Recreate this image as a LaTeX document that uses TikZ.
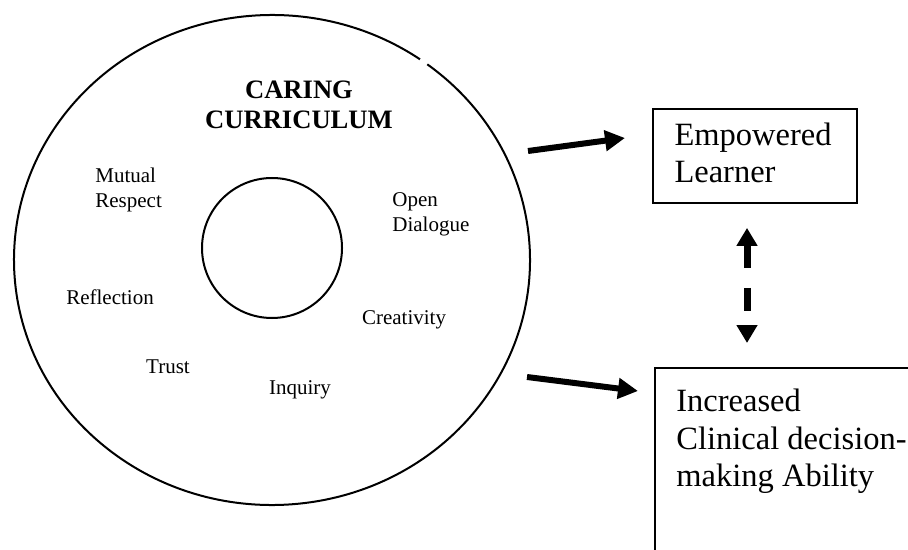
\documentclass[tikz,border=0pt]{standalone}
\usepackage{fontspec}
\setmainfont{Liberation Serif}
\usetikzlibrary{arrows.meta}
\tikzset{>=Triangle}

\begin{document}
\begin{tikzpicture}[x=0.5pt, y=-0.5pt,
valuetext/.style={align=left, inner sep=0pt, font=\fontsize{10.5}{12.5}\selectfont},
titletext/.style={align=center, inner sep=0pt, font=\fontsize{13.3}{15}\selectfont\bfseries},
outcomebox/.style={rectangle, draw=black, line width=0.9pt},
outcometext/.style={align=left, inner sep=0pt, anchor=north west, font=\fontsize{16.25}{18.75}\selectfont},
thickarrow/.style={->, line width=3pt, >={Triangle[length=10pt, width=10pt]}},
dasharrow/.style={<->, line width=3.5pt, dash pattern=on 11.5pt off 10pt, >={Triangle[length=9pt, width=10pt]}},
]
\useasboundingbox (0,0) rectangle (908,550);
\clip (0,0) rectangle (908,550);

%Circles
\draw[line width=1pt] (272,260) ++(-53:258 and 245) arc[start angle=-53, end angle=305, x radius=258, y radius=245];
\node[circle, draw=black, line width=1pt, minimum size=70pt, inner sep=0pt](Core) at (272,248){};

%Nodes
\node[titletext](Title) at (299,105){CARING\\CURRICULUM};
\node[valuetext, anchor=west](Respect) at (95,190){Mutual\\Respect};
\node[valuetext, anchor=west](Dialogue) at (392,214){Open\\Dialogue};
\node[valuetext](Reflection) at (110,297){Reflection};
\node[valuetext](Creativity) at (404,320){Creativity};
\node[valuetext](Trust) at (168,367){Trust};
\node[valuetext](Inquiry) at (300,390){Inquiry};

\node[outcomebox, minimum width=102pt, minimum height=47pt](Learner) at (755,156){};
\node[outcometext](Learner text) at ([xshift=11pt, yshift=-7pt]Learner.north west){Empowered\\Learner};
\node[outcomebox, anchor=north west, minimum width=140pt, minimum height=110pt](Ability) at (654,367){};
\node[outcometext](Ability text) at ([xshift=11pt, yshift=-11pt]Ability.north west){Increased\\Clinical decision-\\making Ability};

\coordinate (Top start) at (528,151);
\coordinate (Top end) at (625,138);
\coordinate (Bottom start) at (527,377);
\coordinate (Bottom end) at (638,391);

%Lines
\draw[thickarrow] (Top start) -- (Top end);
\draw[thickarrow] (Bottom start) -- (Bottom end);
\draw[dasharrow, shorten <=12pt, shorten >=12pt] ([xshift=-4pt]Learner.south) -- ([xshift=46.5pt]Ability.north west);
\end{tikzpicture}
\end{document}
